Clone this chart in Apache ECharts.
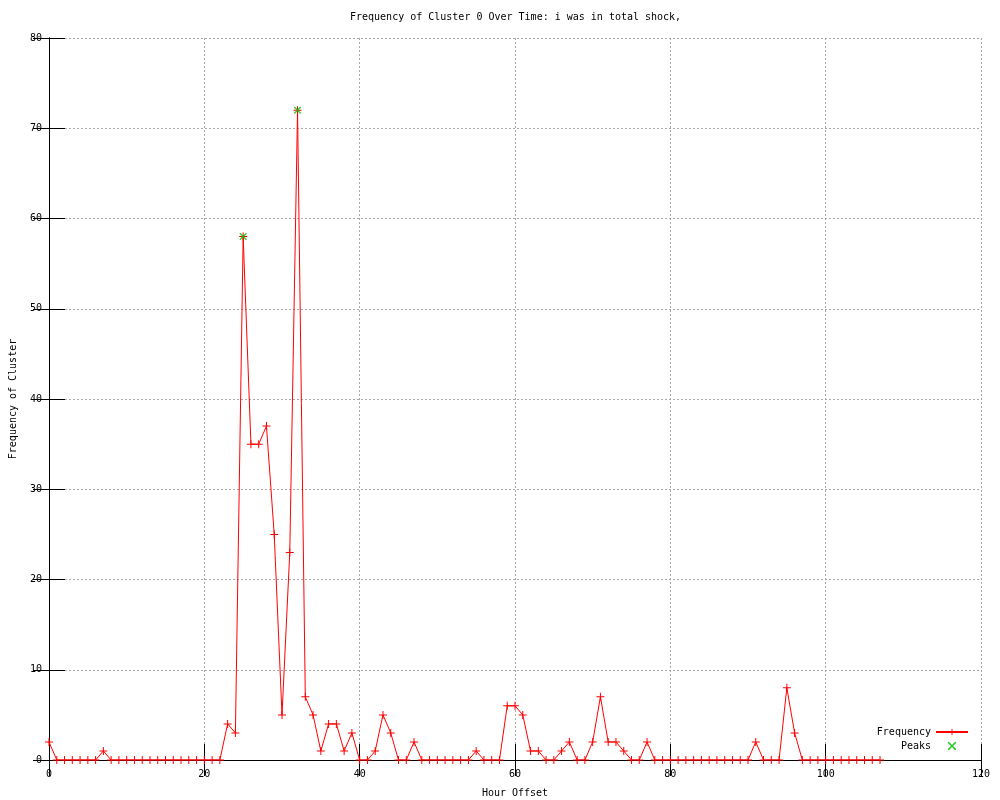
<!DOCTYPE html>
<html>
<head>
<meta charset="utf-8">
<script src="https://cdn.jsdelivr.net/npm/echarts@6/dist/echarts.min.js"></script>
<style>
  html, body { margin: 0; padding: 0; background: #fff; }
  #chart { width: 1000px; height: 800px; }
</style>
</head>
<body>
<div id="chart"></div>
<script>
  // frequency per hour offset (index = hour 0..107)
  var frequency = [
    2, 0, 0, 0, 0, 0, 0, 1, 0, 0,
    0, 0, 0, 0, 0, 0, 0, 0, 0, 0,
    0, 0, 0, 4, 3, 58, 35, 35, 37, 25,
    5, 23, 72, 7, 5, 1, 4, 4, 1, 3,
    0, 0, 1, 5, 3, 0, 0, 2, 0, 0,
    0, 0, 0, 0, 0, 1, 0, 0, 0, 6,
    6, 5, 1, 1, 0, 0, 1, 2, 0, 0,
    2, 7, 2, 2, 1, 0, 0, 2, 0, 0,
    0, 0, 0, 0, 0, 0, 0, 0, 0, 0,
    0, 2, 0, 0, 0, 8, 3, 0, 0, 0,
    0, 0, 0, 0, 0, 0, 0, 0
  ];
  var peakHours = [25, 32];
  var peakValues = [58, 72];

  var font = '"DejaVu Sans Mono", monospace';
  var plusPath = 'path://M0,3.5h8v1h-8z M3.5,0h1v8h-1z';
  var crossPath = 'path://M0,0L1,0L7,6L7,7L6,7L0,1Z M7,0L7,1L1,7L0,7L0,6L6,0Z';

  var freqData = frequency.map(function (v, i) { return [i, v]; });
  var peakData = peakHours.map(function (h, i) { return [h, peakValues[i]]; });

  var myChart = echarts.init(document.getElementById('chart'));

  var tickStyle = { show: true, inside: true, length: 16, lineStyle: { color: '#000', width: 1 } };
  var lineStyle = { show: true, lineStyle: { color: '#000', width: 1 } };
  var gridStyle = { show: true, lineStyle: { color: '#a8a8a8', width: 1, type: [2, 2] } };

  var options = {
    animation: false,
    backgroundColor: '#fff',
    title: {
      text: 'Frequency of Cluster 0 Over Time: i was in total shock,',
      left: 350,
      top: 12,
      padding: 0,
      textStyle: { fontFamily: font, fontSize: 10, fontWeight: 'normal', color: '#000' }
    },
    grid: { left: 49, right: 19, top: 38, bottom: 40, outerBoundsMode: 'none', containLabel: false },
    legend: {
      orient: 'vertical',
      align: 'right',
      right: 31,
      top: 727,
      itemWidth: 32,
      itemHeight: 8,
      itemGap: 4,
      padding: 0,
      data: ['Frequency', 'Peaks'],
      textStyle: { fontFamily: font, fontSize: 10, color: '#000' }
    },
    xAxis: [
      {
        type: 'value',
        min: 0,
        max: 120,
        interval: 20,
        name: 'Hour Offset',
        nameLocation: 'middle',
        nameGap: 28,
        nameTextStyle: { fontFamily: font, fontSize: 10, color: '#000' },
        axisLine: lineStyle,
        axisTick: tickStyle,
        axisLabel: { margin: 9, fontFamily: font, fontSize: 10, color: '#000' },
        splitLine: gridStyle
      },
      {
        type: 'value',
        position: 'top',
        min: 0,
        max: 120,
        interval: 20,
        axisLine: lineStyle,
        axisTick: tickStyle,
        axisLabel: { show: false },
        splitLine: { show: false }
      }
    ],
    yAxis: [
      {
        type: 'value',
        min: 0,
        max: 80,
        interval: 10,
        name: 'Frequency of Cluster',
        nameLocation: 'middle',
        nameGap: 31,
        nameRotate: 90,
        nameTextStyle: { fontFamily: font, fontSize: 10, color: '#000' },
        axisLine: lineStyle,
        axisTick: tickStyle,
        axisLabel: { margin: 7, fontFamily: font, fontSize: 10, color: '#000' },
        splitLine: gridStyle
      },
      {
        type: 'value',
        position: 'right',
        min: 0,
        max: 80,
        interval: 10,
        axisLine: lineStyle,
        axisTick: tickStyle,
        axisLabel: { show: false },
        splitLine: { show: false }
      }
    ],
    series: [
      {
        name: 'Frequency',
        type: 'line',
        xAxisIndex: 0,
        yAxisIndex: 0,
        data: freqData,
        symbol: plusPath,
        symbolSize: 8,
        showAllSymbol: true,
        lineStyle: { color: '#ff0000', width: 1 },
        itemStyle: { color: '#ff0000' },
        z: 3
      },
      {
        name: 'Peaks',
        type: 'scatter',
        xAxisIndex: 0,
        yAxisIndex: 0,
        data: peakData,
        symbol: crossPath,
        symbolSize: 7,
        itemStyle: { color: '#00c000' },
        z: 4
      }
    ]
  };
  myChart.setOption(options);
</script>
</body>
</html>
